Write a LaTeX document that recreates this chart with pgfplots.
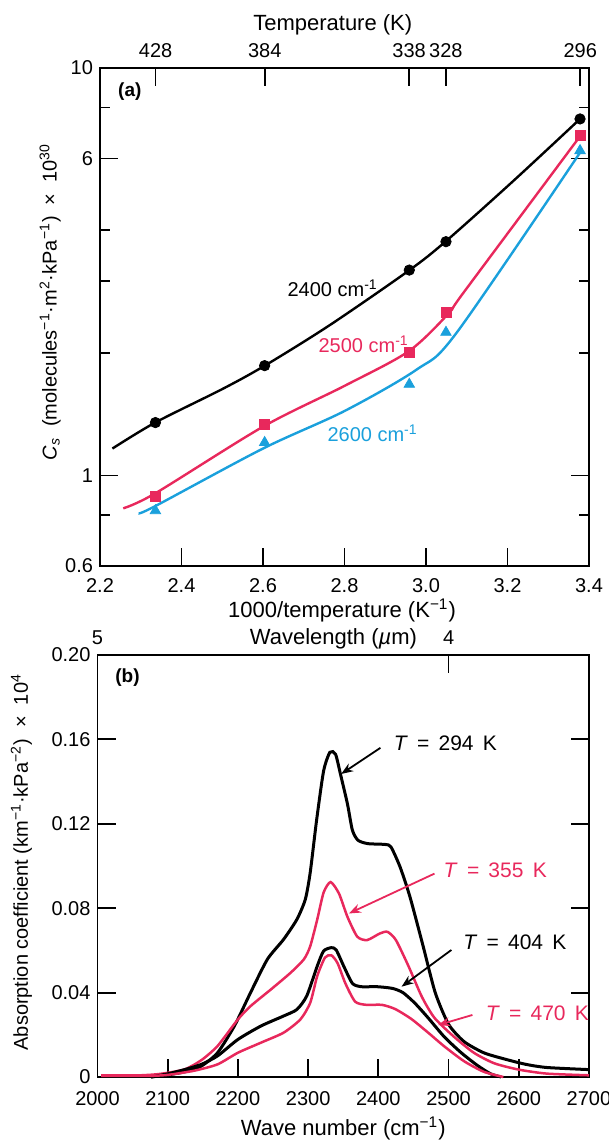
\documentclass[border=0pt]{standalone}
\usepackage{fontspec}
\setmainfont{Liberation Sans}
\usepackage{pgfplots}
\pgfplotsset{compat=1.18}
\usetikzlibrary{arrows.meta}
\definecolor{cred}{RGB}{232,40,92}
\definecolor{cblue}{RGB}{26,160,220}
\newcommand{\sq}{\hspace{0.44em}}
\newcommand{\Tlab}[1]{\textit{T}\sq=\sq#1\sq K}
\tikzset{arr/.style={-{Stealth[length=6pt,width=4.5pt]}, line width=0.9pt}}

\begin{document}
\begin{tikzpicture}
\useasboundingbox (0,0) rectangle (304.5pt,570pt);
\pgfplotsset{
  every axis/.append style={
    scale only axis, anchor=south west,
    font=\fontsize{10}{12}\selectfont,
    /pgf/number format/assume math mode=true,
    axis line style={line width=0.9pt},
    tick style={black, line width=0.9pt},
    major tick length=9pt, minor tick length=5pt,
    scaled ticks=false, clip=false,
  },
  every axis x label/.append style={font=\fontsize{11}{13}\selectfont},
}

% ---------- panel (a) ----------
\begin{axis}[
  at={(50pt,287pt)}, width=244.5pt, height=249pt,
  xmin=2.2, xmax=3.4, ymode=log, ymin=0.6, ymax=10,
  xtick={2.2,2.4,2.6,2.8,3.0,3.2,3.4},
  xticklabels={2.2,2.4,2.6,2.8,3.0,3.2,3.4},
  xtick pos=left,
  xticklabel style={anchor=base, yshift=-13.5pt},
  ytick={0.6,1,6,10}, yticklabels={0.6,1,6,10},
  minor ytick={0.8,2,3,4,8},
  ytick pos=both, yticklabel pos=left,
  xlabel={1000/temperature (K\textsuperscript{−1})},
  xlabel style={at={(axis description cs:0.495,-0.104)}, anchor=base},
  ylabel={\textit{C}\textsubscript{\textit{s}}\ \ (molecules\textsuperscript{−1}·m\textsuperscript{2}·kPa\textsuperscript{−1})\ \ ×\ \ 10\textsuperscript{30}},
  ylabel style={at={(axis description cs:-0.102,0.53)}, anchor=center},
]
\addplot[smooth, tension=0.5, line width=1.2pt, black] coordinates {
  (2.2305,1.165) (2.336,1.35) (2.5,1.63) (2.604,1.86) (2.764,2.34)
  (2.959,3.19) (3.049,3.76) (3.214,5.28) (3.378,7.5)};
\addplot[smooth, tension=0.5, line width=1.2pt, cred] coordinates {
  (2.257,0.831) (2.336,0.905) (2.6,1.318) (2.8,1.66) (2.958,2.02)
  (3.057,2.51) (3.092,2.81) (3.378,6.8)};
\addplot[smooth, tension=0.5, line width=1.2pt, cblue] coordinates {
  (2.295,0.808) (2.336,0.842) (2.6,1.165) (2.8,1.44) (2.977,1.82)
  (3.075,2.24) (3.378,6.2)};
\addplot[only marks, mark=*, mark size=2.6pt, black] coordinates {
  (2.336,1.349) (2.604,1.861) (2.959,3.193) (3.049,3.749) (3.378,7.50)};
\addplot[only marks, mark=square*, mark size=2.5pt, cred] coordinates {
  (2.336,0.888) (2.604,1.336) (2.959,2.006) (3.049,2.515) (3.378,6.82)};
\addplot[only marks, mark=triangle*, mark size=3pt, cblue] coordinates {
  (2.336,0.820) (2.604,1.205) (2.959,1.675) (3.049,2.246) (3.378,6.27)};
\node at (axis cs:2.771,2.88) {2400 cm\textsuperscript{-1}};
\node[text=cred] at (axis cs:2.847,2.1) {2500 cm\textsuperscript{-1}};
\node[text=cblue] at (axis cs:2.869,1.27) {2600 cm\textsuperscript{-1}};
\node[font=\bfseries\fontsize{9.5}{11}\selectfont] at (axis description cs:0.061,0.952) {(a)};
\end{axis}

\begin{axis}[
  at={(50pt,287pt)}, width=244.5pt, height=249pt,
  xmin=2.2, xmax=3.4, ymode=log, ymin=0.6, ymax=10,
  axis x line*=top, axis y line=none,
  xtick={2.3364,2.6042,2.9586,3.0488,3.3784},
  xticklabels={428,384,338,328,296},
  xticklabel style={anchor=base, yshift=5pt},
  xlabel={Temperature (K)},
  xlabel style={at={(axis description cs:0.476,1.076)}, anchor=base},
]
\end{axis}

% ---------- panel (b) ----------
\begin{axis}[
  at={(48.75pt,31.5pt)}, width=245.75pt, height=211pt,
  xmin=2000, xmax=2700, ymin=0, ymax=0.2,
  xtick={2000,2100,2200,2300,2400,2500,2600,2700},
  xticklabels={2000,2100,2200,2300,2400,2500,2600,2700},
  xtick pos=left,
  xticklabel style={anchor=base, yshift=-14pt},
  ytick={0,0.04,0.08,0.12,0.16,0.20},
  yticklabels={0,0.04,0.08,0.12,0.16,0.20},
  ytick pos=both, yticklabel pos=left,
  xlabel={Wave number (cm\textsuperscript{−1})},
  xlabel style={at={(axis description cs:0.5,-0.138)}, anchor=base},
  ylabel={Absorption coefficient (km\textsuperscript{−1}·kPa\textsuperscript{−2})\ \ ×\ \ 10\textsuperscript{4}},
  ylabel style={at={(axis description cs:-0.155,0.509)}, anchor=center},
]
% T = 294 K
\addplot[smooth, tension=0.4, line width=1.5pt, black] coordinates {
  (2076,0) (2100,0.001) (2125,0.0025) (2148,0.0052) (2171,0.0115)
  (2195,0.0242) (2218,0.040) (2242,0.0558) (2265,0.0652) (2284,0.0747)
  (2296,0.0842) (2303,0.097) (2312,0.1216) (2322,0.145) (2331,0.1539)
  (2339,0.153) (2346,0.1436) (2356,0.1294) (2363,0.117) (2371,0.1122)
  (2385,0.1106) (2410,0.1102) (2418,0.109) (2431,0.0995) (2445,0.0854)
  (2463,0.063) (2481,0.040) (2500,0.025) (2522,0.0168) (2550,0.0115)
  (2580,0.0085) (2610,0.006) (2640,0.0045) (2700,0.0035)};
% T = 355 K
\addplot[smooth, tension=0.4, line width=1.25pt, cred] coordinates {
  (2005,0.0008) (2060,0.0008) (2090,0.0015) (2124,0.0036) (2148,0.008)
  (2171,0.0147) (2200,0.0273) (2218,0.0336) (2247,0.0415) (2275,0.0494)
  (2294,0.0558) (2303,0.062) (2313,0.0747) (2322,0.0874) (2332,0.0924)
  (2344,0.0869) (2356,0.0759) (2370,0.0665) (2384,0.0649) (2402,0.068)
  (2413,0.0688) (2425,0.0649) (2443,0.0525) (2462,0.038) (2480,0.028)
  (2508,0.019) (2536,0.0115) (2565,0.0065) (2600,0.0035) (2640,0.0016)
  (2700,0.0008)};
% T = 404 K
\addplot[smooth, tension=0.4, line width=1.5pt, black] coordinates {
  (2076,0) (2100,0.0015) (2124,0.0035) (2148,0.006) (2171,0.010)
  (2200,0.0178) (2233,0.0242) (2265,0.0289) (2284,0.032) (2298,0.0384)
  (2313,0.0526) (2322,0.0597) (2333,0.0613) (2340,0.0602) (2351,0.0523)
  (2363,0.0444) (2375,0.0428) (2398,0.0428) (2420,0.042) (2435,0.040)
  (2452,0.035) (2471,0.028) (2494,0.019) (2518,0.0115) (2541,0.0055)
  (2560,0.0015) (2575,0)};
% T = 470 K
\addplot[smooth, tension=0.4, line width=1.25pt, cred] coordinates {
  (2005,0.0005) (2070,0.0005) (2100,0.001) (2138,0.003) (2171,0.006)
  (2200,0.0115) (2233,0.0163) (2265,0.021) (2289,0.0273) (2303,0.0352)
  (2313,0.0479) (2324,0.0566) (2333,0.0577) (2342,0.0539) (2353,0.0444)
  (2367,0.0357) (2383,0.0342) (2405,0.0342) (2424,0.0322) (2447,0.0275)
  (2471,0.021) (2494,0.0145) (2522,0.0075) (2550,0.0025) (2578,0)};
\draw[arr, black] (axis cs:2403,0.156) -- (axis cs:2347,0.1436);
\draw[arr, cred] (axis cs:2480,0.0964) -- (axis cs:2358,0.0775);
\draw[arr, black] (axis cs:2504,0.0602) -- (axis cs:2433,0.0428);
\draw[arr, cred] (axis cs:2534,0.0294) -- (axis cs:2485,0.0246);
\node[anchor=west, font=\fontsize{10.5}{12}\selectfont] at (axis cs:2412,0.158) {\Tlab{294}};
\node[anchor=west, font=\fontsize{10.5}{12}\selectfont, text=cred] at (axis cs:2483,0.098) {\Tlab{355}};
\node[anchor=west, font=\fontsize{10.5}{12}\selectfont] at (axis cs:2511,0.064) {\Tlab{404}};
\node[anchor=west, font=\fontsize{10.5}{12}\selectfont, text=cred] at (axis cs:2543,0.0302) {\Tlab{470}};
\node[font=\bfseries\fontsize{9.5}{11}\selectfont] at (axis description cs:0.061,0.9455) {(b)};
\end{axis}

\begin{axis}[
  at={(48.75pt,31.5pt)}, width=245.75pt, height=211pt,
  xmin=2000, xmax=2700, ymin=0, ymax=0.2,
  axis x line*=top, axis y line=none,
  xtick={2000,2500}, xticklabels={5,4},
  xticklabel style={anchor=base, yshift=5pt},
  xlabel={Wavelength (\textit{µ}m)},
  xlabel style={at={(axis description cs:0.48,1)}, anchor=base, yshift=5pt},
]
\end{axis}
\end{tikzpicture}
\end{document}
